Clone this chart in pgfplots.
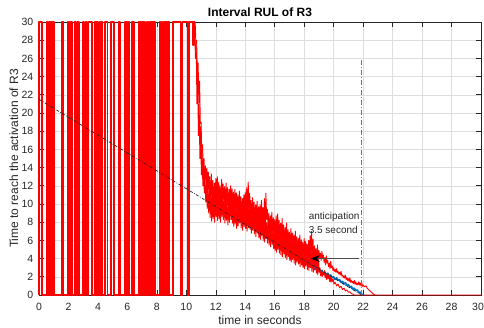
\documentclass[border=0pt]{standalone}
\usepackage{fontspec}
\setmainfont{Liberation Sans}
\usepackage{pgfplots}
\pgfplotsset{compat=1.18}
\usetikzlibrary{arrows.meta}
\definecolor{mblue}{rgb}{0,0.447,0.741}
\definecolor{axgray}{rgb}{0.15,0.15,0.15}
\begin{document}
\begin{tikzpicture}
\begin{axis}[
 at={(0,0)}, anchor=south west, scale only axis, width=442pt, height=273pt,
 xmin=0,xmax=30,ymin=0,ymax=30, clip=false,
 xtick={0,2,...,30}, ytick={0,2,...,30},
 xticklabels={0,2,4,6,8,10,12,14,16,18,20,22,24,26,28,\kern-6pt 30},
 grid=major, major grid style={black!13, line width=0.5pt},
 axis line style={axgray, line width=0.6pt},
 tick style={axgray, line width=0.6pt},
 tick align=inside, major tick length=5pt,
 /pgf/number format/assume math mode=true,
 ticklabel style={font=\fontsize{10.5}{12}\selectfont, text=axgray},
 xticklabel style={anchor=north, inner sep=0pt, yshift=-8pt},
 yticklabel style={anchor=east, inner sep=0pt, xshift=-5.5pt},
 xlabel={time in seconds}, ylabel={Time to reach the activation of R3},
 label style={font=\fontsize{12}{14}\selectfont, text=axgray},
 xlabel style={at={(axis description cs:0.5,-0.1099)}, anchor=base},
 ylabel style={at={(axis description cs:-0.0475,0.5)}, anchor=base},
 title={Interval RUL of R3},
 title style={at={(axis description cs:0.5,0.9974)}, anchor=base, font=\bfseries\fontsize{12}{14}\selectfont},
]
% square-wave part
\addplot[red, line width=1.6pt, line join=round] coordinates {
(0,0)(0,30)(0.22,30)(0.22,0)
(0.52,0)(0.52,30)(0.59,30)(0.59,0)(0.66,0)(0.66,30)(0.73,30)(0.73,0)(0.80,0)(0.80,30)(0.87,30)(0.87,0)(0.94,0)(0.94,30)(1.01,30)(1.01,0)
(1.55,0)(1.55,30)(1.65,30)(1.65,0)
(1.95,0)(1.95,30)(2.01,30)(2.01,0)(2.07,0)(2.07,30)(2.13,30)(2.13,0)(2.19,0)(2.19,30)(2.25,30)(2.25,0)
(2.40,0)(2.40,30)(2.50,30)(2.50,0)
(2.62,0)(2.62,30)(2.70,30)(2.70,0)
(2.97,0)(2.97,30)(3.05,30)(3.05,0)
(3.15,0)(3.15,30)(3.25,30)(3.25,0)
(3.35,0)(3.35,30)(3.58,30)(3.58,0)
(3.80,0)(3.80,30)(3.87,30)(3.87,0)(3.95,0)(3.95,30)(4.02,30)(4.02,0)(4.10,0)(4.10,30)(4.17,30)(4.17,0)(4.25,0)(4.25,30)(4.32,30)(4.32,0)
(4.48,0)(4.48,30)(4.64,30)(4.64,0)
(4.90,0)(4.90,30)(5.08,30)(5.08,0)
(5.40,0)(5.40,30)(5.50,30)(5.50,0)
(5.85,0)(5.85,30)(5.91,30)(5.91,0)(5.96,0)(5.96,30)(6.02,30)(6.02,0)(6.07,0)(6.07,30)(6.13,30)(6.13,0)
(6.30,0)(6.30,30)(6.45,30)(6.45,0)
(6.74,0)(6.74,30)(6.81,30)(6.81,0)(6.87,0)(6.87,30)(6.94,30)(6.94,0)(7.00,0)(7.00,30)(7.07,30)(7.07,0)(7.13,0)(7.13,30)(7.20,30)(7.20,0)
(7.31,0)(7.31,30)(7.37,30)(7.37,0)(7.44,0)(7.44,30)(7.50,30)(7.50,0)(7.56,0)(7.56,30)(7.63,30)(7.63,0)(7.69,0)(7.69,30)(7.75,30)(7.75,0)(7.82,0)(7.82,30)(7.88,30)(7.88,0)
(8.17,0)(8.17,30)(8.24,30)(8.24,0)(8.32,0)(8.32,30)(8.39,30)(8.39,0)(8.47,0)(8.47,30)(8.55,30)(8.55,0)(8.62,0)(8.62,30)(8.70,30)(8.70,0)(8.77,0)(8.77,30)(8.85,30)(8.85,0)
(9.10,0)(9.10,30)(9.62,30)(9.62,0)
(9.75,0)(9.75,30)(10.07,30)(10.07,0)
(10.18,0)(10.18,30)(10.45,30)(10.45,27.5)(10.50,27.5)(10.50,30)(10.60,30)
};
% upper bound
\addplot[red, line width=0.9pt, line join=round] table {
10.60 30.0
10.65 27.6
10.70 28.0
10.75 24.1
10.80 25.5
10.85 21.1
10.90 23.5
10.95 18.85
11.00 19.0
11.05 15.7
11.10 16.5
11.15 13.85
11.20 15.0
11.25 12.7
11.30 14.2
11.35 11.8
11.40 13.9
11.45 11.3
11.50 13.5
11.55 10.85
11.60 13.0
11.65 10.35
11.70 13.3
11.75 10.3
11.80 12.6
11.85 10.1
11.90 12.3
11.95 9.75
12.00 12.8
12.05 10.3
12.10 13.0
12.15 10.2
12.20 12.4
12.25 10.0
12.30 12.0
12.35 9.6
12.40 12.7
12.45 10.25
12.50 12.2
12.55 9.85
12.60 11.9
12.65 9.5
12.70 12.3
12.75 9.85
12.80 11.8
12.85 9.35
12.90 11.6
12.95 9.4
13.00 12.0
13.05 9.75
13.10 11.7
13.15 9.4
13.20 11.3
13.25 9.0
13.30 11.6
13.35 9.3
13.40 11.2
13.45 8.85
13.50 11.0
13.55 8.9
13.60 11.4
13.65 9.25
13.70 10.8
13.75 8.7
13.80 10.6
13.85 8.45
13.90 11.0
13.95 8.85
14.00 11.3
14.05 8.9
14.10 11.8
14.15 9.0
14.20 12.4
14.25 9.5
14.30 11.2
14.35 8.8
14.40 10.4
14.45 8.2
14.50 10.7
14.55 8.5
14.60 10.2
14.65 8.05
14.70 9.9
14.75 7.75
14.80 10.3
14.85 8.15
14.90 9.7
14.95 7.6
15.00 9.9
15.05 7.6
15.10 10.4
15.15 8.05
15.20 9.6
15.25 7.4
15.30 10.6
15.35 7.8
15.40 11.2
15.45 8.3
15.50 9.4
15.55 7.15
15.60 9.0
15.65 6.85
15.70 8.7
15.75 6.6
15.80 9.1
15.85 6.95
15.90 8.5
15.95 6.4
16.00 8.3
16.05 6.2
16.10 8.7
16.15 6.3
16.20 8.9
16.25 6.55
16.30 8.2
16.35 6.0
16.40 7.9
16.45 5.75
16.50 8.4
16.55 5.9
16.60 7.7
16.65 5.7
16.70 7.4
16.75 5.35
16.80 7.9
16.85 5.5
16.90 7.2
16.95 5.3
17.00 6.9
17.05 4.95
17.10 7.3
17.15 5.05
17.20 6.8
17.25 4.95
17.30 6.6
17.35 4.65
17.40 7.0
17.45 4.75
17.50 6.4
17.55 4.6
17.60 6.2
17.65 4.4
17.70 6.6
17.75 4.45
17.80 6.1
17.85 4.3
17.90 5.8
17.95 4.0
18.00 6.2
18.05 4.15
18.10 5.9
18.15 4.15
18.20 5.6
18.25 3.8
18.30 6.0
18.35 3.95
18.40 6.5
18.45 4.35
18.50 7.0
18.55 4.4
18.60 6.1
18.65 3.9
18.70 5.4
18.75 3.7
18.80 5.1
18.85 3.35
18.90 5.5
18.95 3.45
19.00 4.9
19.05 4.1
19.10 4.6
19.15 3.8
19.20 4.8
19.25 4.0
19.30 4.4
19.35 3.6
19.40 4.1
19.45 3.3
19.50 4.3
19.55 3.5
19.60 3.8
19.65 3.1
19.70 3.5
19.75 2.9
19.80 3.7
19.85 3.0
19.90 3.2
19.95 2.7
20.00 3.0
20.05 2.6
20.10 2.8
20.15 2.5
20.20 2.9
20.25 2.45
20.30 2.6
20.35 2.3
20.40 2.5
20.45 2.2
20.50 2.6
20.55 2.1
20.60 2.2
20.65 1.9
20.70 2.1
20.75 1.85
20.80 2.2
20.85 1.7
20.90 1.9
20.95 1.6
21.00 1.8
21.05 1.5
21.10 1.9
21.15 1.4
21.20 1.6
21.25 1.35
21.30 1.5
21.35 1.25
21.40 1.6
21.45 1.2
21.50 1.45
21.55 1.15
21.60 1.3
21.65 1.1
21.70 1.45
21.75 1.1
21.80 1.35
21.85 1.0
21.90 1.4
21.95 0.95
22.00 1.1
22.10 0.9
22.20 1.0
22.30 0.7
22.40 0.55
22.50 0.4
22.60 0.25
22.70 0.1
22.80 0.0
30.00 0.0
};
% mean
\addplot[mblue, line width=1.6pt, line join=round] table {
13.0 9.4
13.1 8.9
13.2 9.3
13.3 8.8
13.4 9.1
13.5 8.6
13.6 9.0
13.7 8.5
13.8 8.8
13.9 8.3
14.0 8.6
14.1 8.1
14.2 8.4
14.3 7.9
14.4 8.0
14.5 7.5
14.6 7.8
14.7 7.3
14.8 7.5
14.9 7.0
15.0 7.1
15.1 6.7
15.2 6.9
15.3 6.4
15.4 6.6
15.5 6.2
15.6 6.3
15.7 5.9
15.8 6.0
15.9 5.6
16.0 5.8
16.1 5.4
16.2 5.5
16.3 5.1
16.4 5.3
16.5 4.9
16.6 5.1
16.7 4.7
16.8 4.9
16.9 4.5
17.0 4.7
17.1 4.3
17.2 4.5
17.3 4.1
17.4 4.3
17.5 3.9
17.6 4.1
17.7 3.8
17.8 3.9
17.9 3.5
18.0 3.7
18.1 3.3
18.2 3.5
18.3 3.1
18.4 3.3
18.5 3.0
18.6 3.1
18.7 2.8
18.8 3.0
18.9 2.6
19.0 2.9
19.1 2.5
19.2 2.7
19.3 2.4
19.4 2.5
19.5 2.2
19.6 2.4
19.7 2.0
19.8 2.2
19.9 1.9
20.0 2.0
20.1 1.7
20.2 1.9
20.3 1.6
20.4 1.7
20.5 1.4
20.6 1.5
20.7 1.2
20.8 1.35
20.9 1.05
21.0 1.15
21.1 0.85
21.2 0.95
21.3 0.65
21.4 0.75
21.5 0.5
21.6 0.55
21.7 0.3
21.8 0.3
21.9 0.1
22.0 0.0
};
% lower bound
\addplot[red, line width=0.9pt, line join=round] table {
10.55 30
10.62 26.0
10.67 27.5
10.72 21.0
10.77 24.0
10.82 17.5
10.87 21.0
10.92 15.0
10.97 18.5
11.02 13.2
11.07 16.0
11.12 12.0
11.17 14.0
11.22 11.2
11.27 13.0
11.32 10.2
11.37 12.1
11.42 9.5
11.47 11.6
11.52 9.0
11.57 11.15
11.62 8.5
11.67 11.1
11.72 8.1
11.77 10.9
11.82 8.4
11.87 10.55
11.92 8.0
11.97 11.1
12.02 8.6
12.07 11.0
12.12 8.2
12.17 10.8
12.22 8.4
12.27 10.4
12.32 8.0
12.37 11.05
12.42 8.6
12.47 10.65
12.52 8.3
12.57 10.3
12.62 7.9
12.67 10.65
12.72 8.2
12.77 10.15
12.82 7.7
12.87 10.2
12.92 8.0
12.97 10.55
13.02 8.3
13.07 10.2
13.12 7.9
13.17 9.8
13.22 7.5
13.27 10.1
13.32 7.8
13.37 9.65
13.42 7.3
13.47 9.7
13.52 7.6
13.57 10.05
13.62 7.9
13.67 9.5
13.72 7.4
13.77 9.25
13.82 7.1
13.87 9.65
13.92 7.5
13.97 9.7
14.02 7.3
14.07 9.8
14.12 7.0
14.17 10.3
14.22 7.4
14.27 9.6
14.32 7.2
14.37 9.0
14.42 6.8
14.47 9.3
14.52 7.1
14.57 8.85
14.62 6.7
14.67 8.55
14.72 6.4
14.77 8.95
14.82 6.8
14.87 8.4
14.92 6.3
14.97 8.4
15.02 6.1
15.07 8.85
15.12 6.5
15.17 8.2
15.22 6.0
15.27 8.6
15.32 5.8
15.37 9.1
15.42 6.2
15.47 7.95
15.52 5.7
15.57 7.65
15.62 5.5
15.67 7.4
15.72 5.3
15.77 7.75
15.82 5.6
15.87 7.2
15.92 5.1
15.97 7.0
16.02 4.9
16.07 7.1
16.12 4.7
16.17 7.35
16.22 5.0
16.27 6.8
16.32 4.6
16.37 6.55
16.42 4.4
16.47 6.7
16.52 4.2
16.57 6.5
16.62 4.5
16.67 6.15
16.72 4.1
16.77 6.3
16.82 3.9
16.87 6.1
16.92 4.2
16.97 5.75
17.02 3.8
17.07 5.85
17.12 3.6
17.17 5.75
17.22 3.9
17.27 5.45
17.32 3.5
17.37 5.55
17.42 3.3
17.47 5.4
17.52 3.6
17.57 5.2
17.62 3.4
17.67 5.25
17.72 3.1
17.77 5.1
17.82 3.3
17.87 4.8
17.92 3.0
17.97 4.95
18.02 2.9
18.07 4.95
18.12 3.2
18.17 4.6
18.22 2.8
18.27 4.75
18.32 2.7
18.37 5.15
18.42 3.0
18.47 5.2
18.52 2.6
18.57 4.7
18.62 2.5
18.67 4.5
18.72 2.8
18.77 4.15
18.82 2.4
18.87 4.25
18.92 2.2
18.97 4.1
19.02 2.5
19.07 3.0
19.12 2.1
19.17 2.6
19.22 2.0
19.27 2.5
19.32 2.2
19.37 2.7
19.42 1.9
19.47 2.4
19.52 1.7
19.57 2.2
19.62 1.8
19.67 2.3
19.72 1.5
19.77 2.0
19.82 1.4
19.87 1.9
19.92 1.5
19.97 1.7
20.02 1.2
20.10 1.4
20.20 1.0
20.30 1.2
20.40 0.8
20.50 0.95
20.60 0.6
20.70 0.75
20.80 0.45
20.90 0.55
21.00 0.3
21.10 0.35
21.20 0.15
21.30 0.1
21.40 0.0
22.80 0.0
};
% linear reference
\addplot[black!85, line width=0.7pt, dash pattern=on 3pt off 1.5pt on 0.8pt off 1.5pt] coordinates {(0,21.5)(21.9,0)};
% activation instant
\addplot[black!55, line width=0.6pt, dash pattern=on 5pt off 2pt on 1pt off 2pt] coordinates {(21.85,0)(21.85,26)};
% anticipation arrow
\addplot[black!70, line width=0.8pt, -{Stealth[length=9pt,width=7pt,black]}] coordinates {(21.7,4)(18.45,4)};
\node[anchor=west, inner sep=0pt, font=\fontsize{10}{12}\selectfont, text=axgray] at (axis cs:18.3,8.57) {anticipation};
\node[anchor=west, inner sep=0pt, font=\fontsize{10}{12}\selectfont, text=axgray] at (axis cs:18.3,7.14) {3.5 second};
\end{axis}
\pgfresetboundingbox
\path[use as bounding box] (-39pt,-33pt) rectangle (445pt,295pt);
\end{tikzpicture}
\end{document}
